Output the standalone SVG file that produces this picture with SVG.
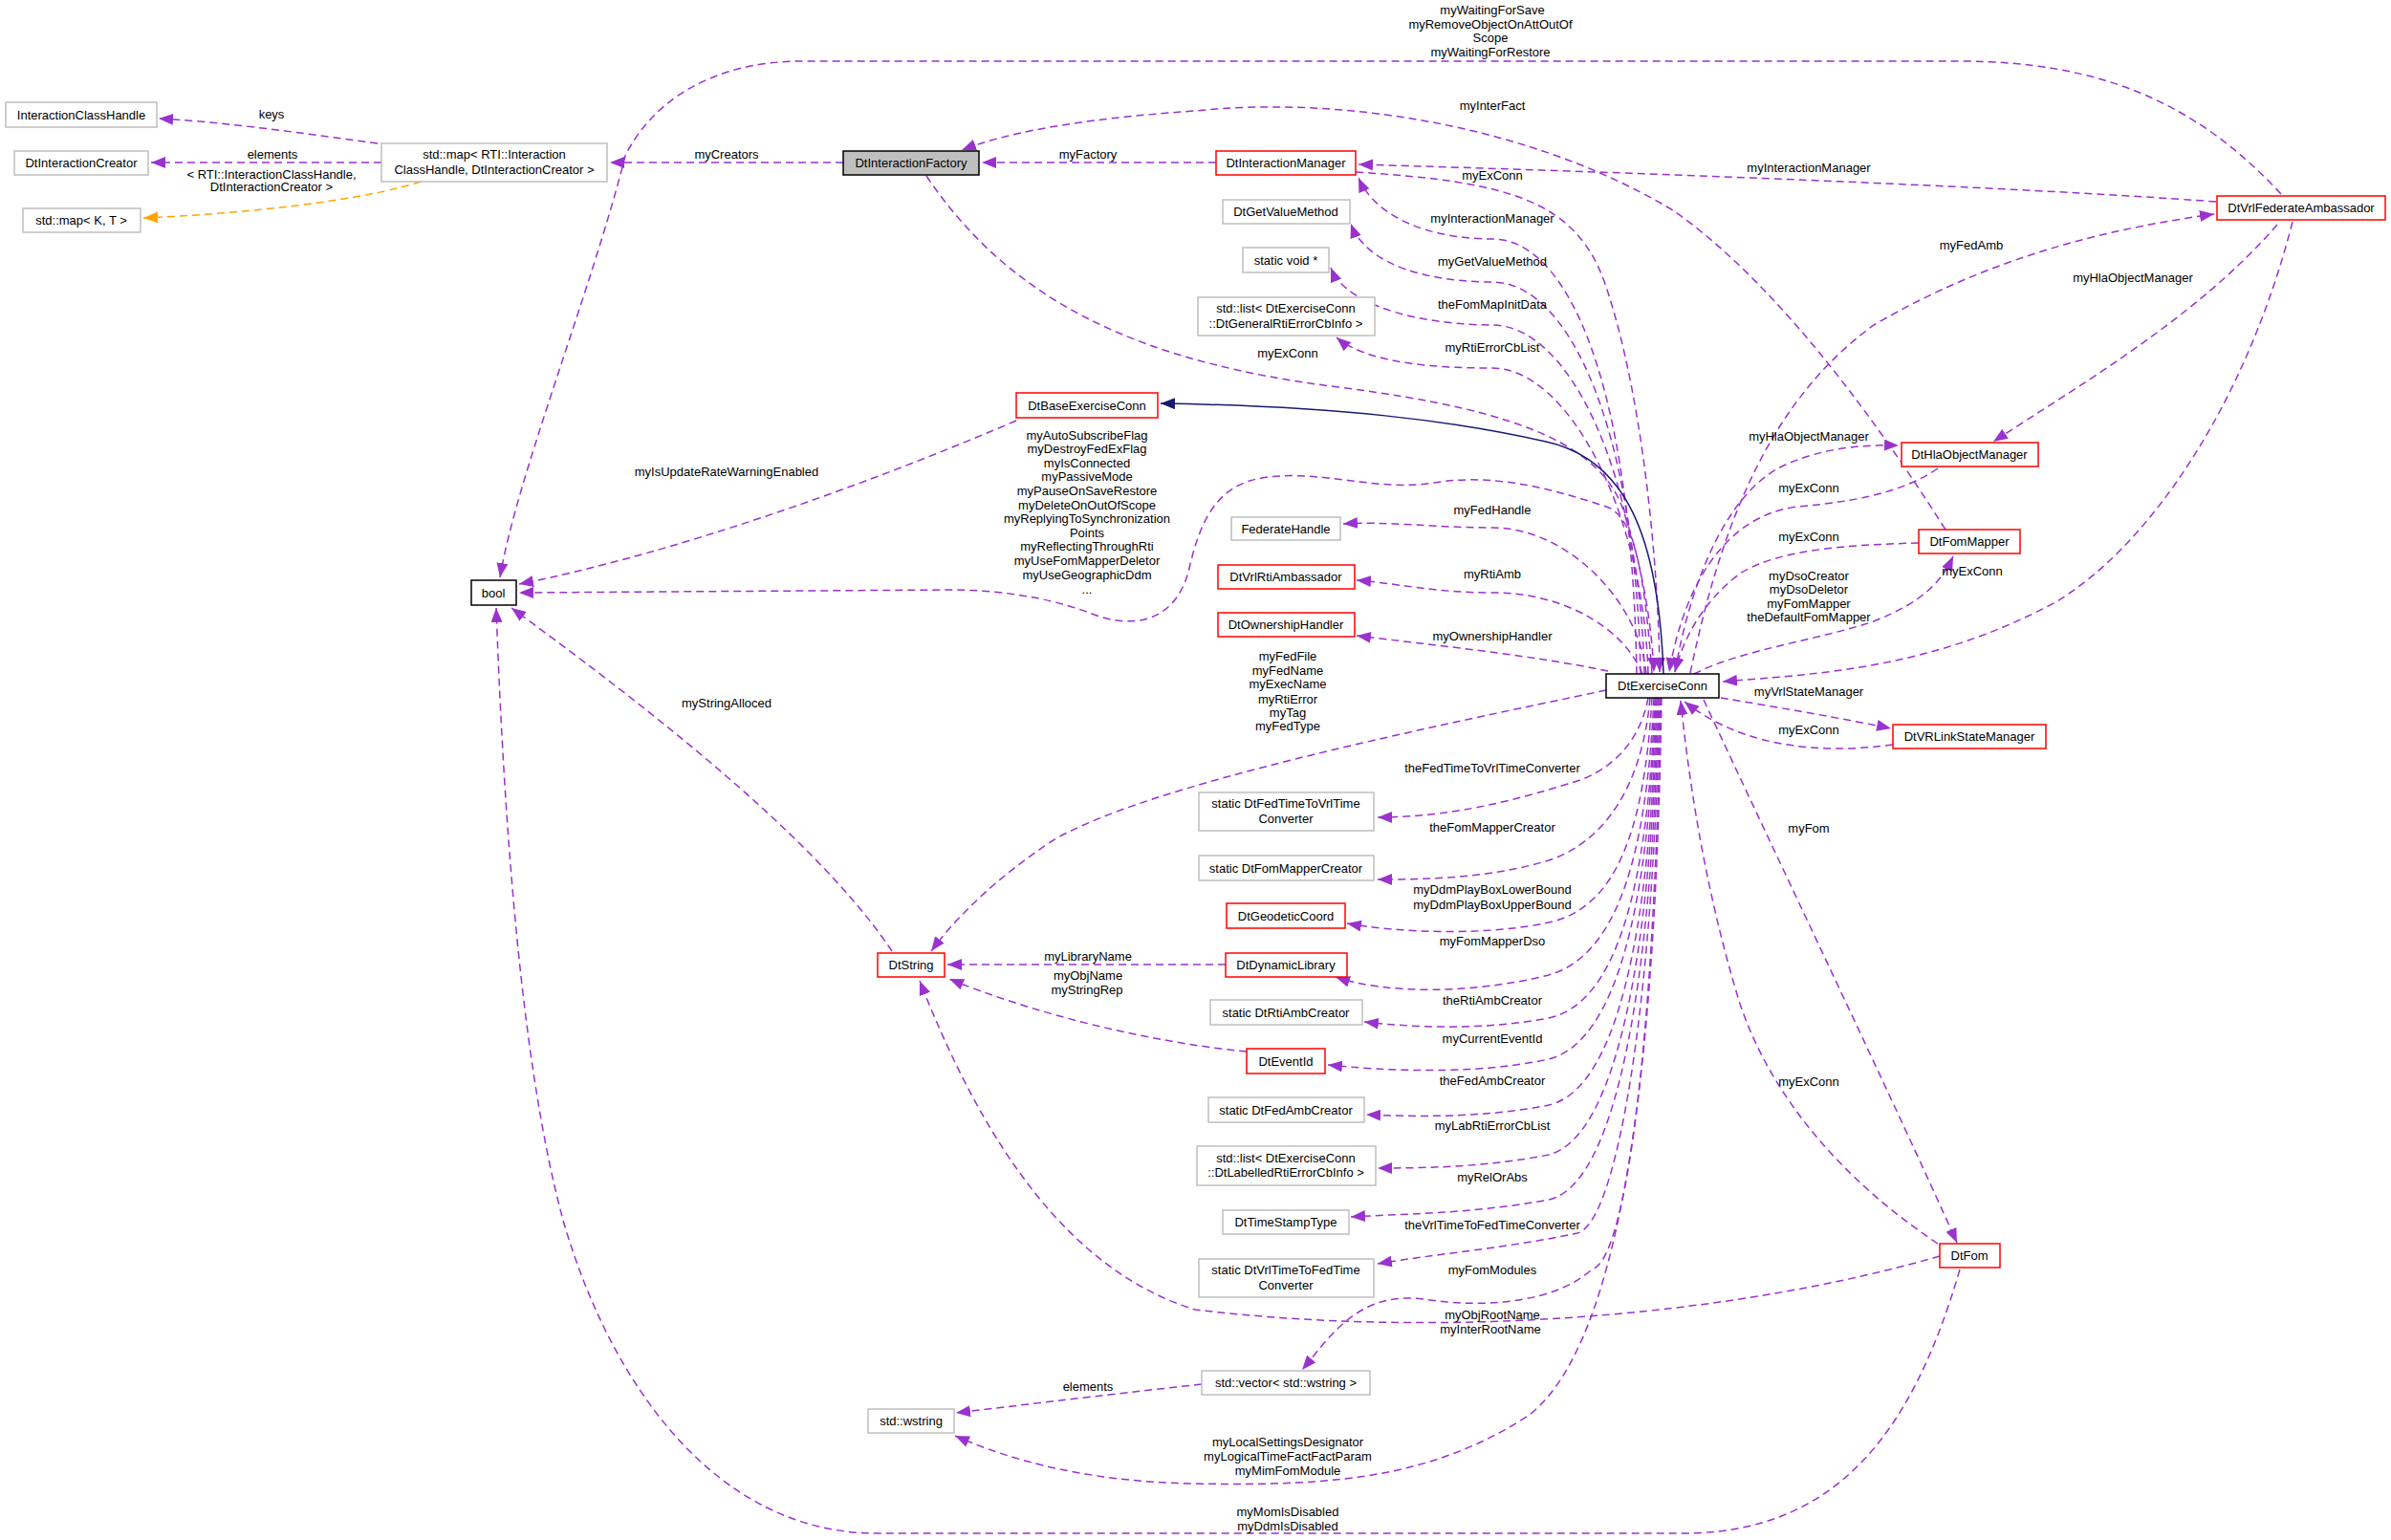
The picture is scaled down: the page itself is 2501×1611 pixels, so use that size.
<svg xmlns="http://www.w3.org/2000/svg" width="2501" height="1611" viewBox="0 0 2501 1611">
<defs>
<style>
text{font-family:"Liberation Sans",Arial,sans-serif;font-size:13px;fill:#000;text-anchor:middle}
.n rect{fill:#fff;stroke:#bfbfbf;stroke-width:1.5}
.r rect{stroke:#ff0000}
.b rect{stroke:#000}
.e path{fill:none;stroke:#9a32cd;stroke-width:1.5;stroke-dasharray:8,5;marker-end:url(#ap)}
.e path.o{stroke:#ffa500;marker-end:url(#ao)}
.e path.s{stroke:#191970;stroke-dasharray:none;marker-end:url(#an)}
</style>
<marker id="ap" markerUnits="userSpaceOnUse" markerWidth="16" markerHeight="12" refX="15" refY="6" orient="auto"><path d="M0,0 L15,6 L0,12 z" fill="#9a32cd"/></marker>
<marker id="ao" markerUnits="userSpaceOnUse" markerWidth="16" markerHeight="12" refX="15" refY="6" orient="auto"><path d="M0,0 L15,6 L0,12 z" fill="#ffa500"/></marker>
<marker id="an" markerUnits="userSpaceOnUse" markerWidth="16" markerHeight="12" refX="15" refY="6" orient="auto"><path d="M0,0 L15,6 L0,12 z" fill="#191970"/></marker>
</defs>
<rect width="2501" height="1611" fill="#fff"/>
<g class="e" id="edges">
<path d="M1712 705 C1707 400,1640 250,1561 250 C1500 250,1440 230,1421 186"/>
<path d="M1716 705 C1711 445,1640 295,1561 295 C1500 295,1430 280,1413 234"/>
<path d="M1720 705 C1715 490,1640 340,1561 340 C1500 340,1410 325,1392 280"/>
<path d="M1724 705 C1719 535,1640 385,1561 385 C1500 385,1430 380,1398 353"/>
<path d="M1722 705 C1715 630,1640 552,1561 552 C1500 552,1450 545,1405 548"/>
<path d="M1718 705 C1700 660,1640 620,1561 620 C1500 620,1460 610,1419 607"/>
<path d="M1682 702 C1600 685,1500 675,1419 665"/>
<path d="M1418 180 C1580 190,1650 210,1680 300 C1720 420,1735 600,1736 703"/>
<path d="M969 184 C1060 320,1200 380,1400 405 C1600 430,1680 470,1700 540 C1720 600,1728 660,1730 703"/>
<path d="M1728 705 C1720 600,1710 540,1680 530 C1620 510,1560 495,1500 505 C1440 515,1380 490,1320 500 C1270 508,1255 550,1245 590 C1235 640,1200 660,1150 645 C1100 625,1050 618,1000 617 L543 620"/>
<path class="s" d="M1740 705 C1735 560,1700 480,1617 462 C1520 440,1400 425,1214 422"/>
<path d="M2035 554 C1950 420,1850 290,1750 220 C1600 130,1400 100,1250 116 C1120 125,1050 140,1006 157"/>
<path d="M2386 203 C2300 110,2200 64,2050 64 L840 64 C740 64,680 110,654 163 C620 300,540 500,523 604"/>
<path d="M1768 704 C1800 550,1850 420,1960 340 C2080 270,2200 240,2316 224"/>
<path d="M2398 232 C2350 420,2250 570,2150 630 C2020 700,1900 705,1802 713"/>
<path d="M2382 235 C2300 330,2180 400,2085 462"/>
<path d="M2318 211 C2100 195,1700 180,1421 172"/>
<path d="M1752 703 C1770 600,1810 510,1870 485 C1910 468,1950 465,1986 466"/>
<path d="M2027 490 C1990 515,1940 525,1880 530 C1800 540,1760 620,1746 703"/>
<path d="M2007 568 C1930 570,1860 575,1820 600 C1780 630,1760 670,1752 703"/>
<path d="M1772 705 C1820 680,1900 670,1960 650 C2010 630,2030 610,2043 582"/>
<path d="M1800 730 C1860 740,1930 752,1978 762"/>
<path d="M1980 779 C1900 790,1820 780,1762 734"/>
<path d="M1782 732 C1860 900,1980 1150,2047 1300"/>
<path d="M2027 1301 C1920 1230,1850 1140,1820 1050 C1780 920,1765 800,1758 733"/>
<path d="M2029 1314 C1800 1380,1500 1400,1250 1370 C1120 1330,1030 1200,962 1026"/>
<path d="M2050 1328 C2000 1500,1920 1604,1760 1604 L917 1604 C750 1604,640 1450,590 1280 C540 1100,525 800,519 636"/>
<path d="M1680 722 C1500 760,1200 820,1100 880 C1040 920,1000 960,974 995"/>
<path d="M933 995 C850 870,650 720,535 636"/>
<path d="M1724 730 C1715 780,1680 810,1640 820 C1560 845,1500 855,1441 855"/>
<path d="M1726 730 C1718 820,1680 880,1620 900 C1560 918,1500 920,1441 920"/>
<path d="M1728 730 C1720 870,1690 950,1620 965 C1550 980,1460 975,1409 966"/>
<path d="M1730 730 C1722 900,1690 1000,1620 1020 C1540 1040,1450 1040,1397 1022"/>
<path d="M1731 730 C1724 930,1690 1050,1620 1065 C1550 1078,1480 1075,1427 1069"/>
<path d="M1732 730 C1725 950,1690 1090,1620 1108 C1540 1125,1450 1120,1389 1114"/>
<path d="M1733 730 C1726 980,1690 1140,1620 1156 C1550 1170,1480 1168,1429 1166"/>
<path d="M1734 730 C1727 1000,1690 1190,1620 1208 C1560 1220,1500 1222,1441 1222"/>
<path d="M1735 730 C1728 1030,1690 1240,1620 1255 C1540 1270,1460 1270,1413 1273"/>
<path d="M1736 730 C1729 1060,1690 1280,1650 1290 C1580 1305,1500 1312,1441 1322"/>
<path d="M1737 730 C1730 1100,1700 1320,1665 1328 C1630 1360,1560 1370,1489 1359 C1420 1350,1390 1400,1362 1433"/>
<path d="M1738 730 C1732 1100,1700 1400,1600 1480 C1500 1545,1400 1555,1250 1552 C1120 1550,1040 1520,999 1502"/>
<path d="M1282 1009 L991 1009"/>
<path d="M1304 1100 C1200 1090,1080 1060,993 1024"/>
<path d="M1257 1448 C1150 1460,1050 1472,1000 1478"/>
<path d="M882 170 L638 170"/>
<path d="M1272 170 L1027 170"/>
<path d="M395 150 C320 140,240 128,166 124"/>
<path d="M399 170 L158 170"/>
<path class="o" d="M440 190 C380 210,250 224,150 228"/>
<path d="M1063 440 C900 510,700 580,543 611"/>
</g>
<g id="labels">
<text x="284" y="124">keys</text>
<text x="285" y="166">elements</text>
<text x="284" y="187">&lt; RTI::InteractionClassHandle,</text>
<text x="284" y="200">DtInteractionCreator &gt;</text>
<text x="760" y="166">myCreators</text>
<text x="1138" y="166">myFactory</text>
<text x="760" y="498">myIsUpdateRateWarningEnabled</text>
<text x="1137" y="460">myAutoSubscribeFlag</text>
<text x="1137" y="474">myDestroyFedExFlag</text>
<text x="1137" y="489">myIsConnected</text>
<text x="1137" y="503">myPassiveMode</text>
<text x="1137" y="518">myPauseOnSaveRestore</text>
<text x="1137" y="533">myDeleteOnOutOfScope</text>
<text x="1137" y="547">myReplyingToSynchronization</text>
<text x="1137" y="562">Points</text>
<text x="1137" y="576">myReflectingThroughRti</text>
<text x="1137" y="591">myUseFomMapperDeletor</text>
<text x="1137" y="606">myUseGeographicDdm</text>
<text x="1137" y="621">...</text>
<text x="760" y="740">myStringAlloced</text>
<text x="1561" y="15">myWaitingForSave</text>
<text x="1559" y="30">myRemoveObjectOnAttOutOf</text>
<text x="1559" y="44">Scope</text>
<text x="1559" y="59">myWaitingForRestore</text>
<text x="1561" y="115">myInterFact</text>
<text x="1892" y="180">myInteractionManager</text>
<text x="1561" y="188">myExConn</text>
<text x="1561" y="233">myInteractionManager</text>
<text x="1561" y="278">myGetValueMethod</text>
<text x="1561" y="323">theFomMapInitData</text>
<text x="1561" y="368">myRtiErrorCbList</text>
<text x="1347" y="374">myExConn</text>
<text x="2062" y="261">myFedAmb</text>
<text x="2231" y="295">myHlaObjectManager</text>
<text x="1892" y="461">myHlaObjectManager</text>
<text x="1892" y="515">myExConn</text>
<text x="1561" y="538">myFedHandle</text>
<text x="1892" y="566">myExConn</text>
<text x="1561" y="605">myRtiAmb</text>
<text x="1892" y="607">myDsoCreator</text>
<text x="1892" y="621">myDsoDeletor</text>
<text x="1892" y="636">myFomMapper</text>
<text x="1892" y="650">theDefaultFomMapper</text>
<text x="2063" y="602">myExConn</text>
<text x="1561" y="670">myOwnershipHandler</text>
<text x="1347" y="691">myFedFile</text>
<text x="1347" y="706">myFedName</text>
<text x="1347" y="720">myExecName</text>
<text x="1347" y="736">myRtiError</text>
<text x="1347" y="750">myTag</text>
<text x="1347" y="764">myFedType</text>
<text x="1892" y="728">myVrlStateManager</text>
<text x="1892" y="768">myExConn</text>
<text x="1561" y="808">theFedTimeToVrlTimeConverter</text>
<text x="1561" y="870">theFomMapperCreator</text>
<text x="1561" y="935">myDdmPlayBoxLowerBound</text>
<text x="1561" y="951">myDdmPlayBoxUpperBound</text>
<text x="1561" y="989">myFomMapperDso</text>
<text x="1561" y="1051">theRtiAmbCreator</text>
<text x="1561" y="1091">myCurrentEventId</text>
<text x="1561" y="1135">theFedAmbCreator</text>
<text x="1561" y="1182">myLabRtiErrorCbList</text>
<text x="1561" y="1236">myRelOrAbs</text>
<text x="1561" y="1286">theVrlTimeToFedTimeConverter</text>
<text x="1561" y="1333">myFomModules</text>
<text x="1561" y="1380">myObjRootName</text>
<text x="1559" y="1395">myInterRootName</text>
<text x="1347" y="1513">myLocalSettingsDesignator</text>
<text x="1347" y="1528">myLogicalTimeFactFactParam</text>
<text x="1347" y="1543">myMimFomModule</text>
<text x="1347" y="1586">myMomIsDisabled</text>
<text x="1347" y="1601">myDdmIsDisabled</text>
<text x="1892" y="871">myFom</text>
<text x="1892" y="1136">myExConn</text>
<text x="1138" y="1005">myLibraryName</text>
<text x="1138" y="1025">myObjName</text>
<text x="1137" y="1040">myStringRep</text>
<text x="1138" y="1455">elements</text>
</g>
<g id="InteractionClassHandle" class="n"><rect x="6" y="107" width="158" height="26"/><text x="85" y="125">InteractionClassHandle</text></g>
<g id="DtInteractionCreator" class="n"><rect x="15" y="158" width="140" height="25"/><text x="85" y="175">DtInteractionCreator</text></g>
<g id="stdmapKT" class="n"><rect x="24" y="218" width="123" height="25"/><text x="85" y="235">std::map&lt; K, T &gt;</text></g>
<g id="stdmapRTI" class="n"><rect x="399" y="150" width="236" height="40"/><text x="517" y="166">std::map&lt; RTI::Interaction</text><text x="517" y="182">ClassHandle, DtInteractionCreator &gt;</text></g>
<g id="DtInteractionFactory" class="n b"><rect x="882" y="158" width="142" height="25" style="fill:#bfbfbf"/><text x="953" y="175">DtInteractionFactory</text></g>
<g id="DtBaseExerciseConn" class="n r"><rect x="1063" y="411" width="148" height="26"/><text x="1137" y="429">DtBaseExerciseConn</text></g>
<g id="bool" class="n b"><rect x="493" y="607" width="47" height="26"/><text x="516" y="625">bool</text></g>
<g id="DtInteractionManager" class="n r"><rect x="1272" y="158" width="146" height="25"/><text x="1345" y="175">DtInteractionManager</text></g>
<g id="DtGetValueMethod" class="n"><rect x="1279" y="209" width="133" height="25"/><text x="1345" y="226">DtGetValueMethod</text></g>
<g id="staticvoid" class="n"><rect x="1300" y="259" width="90" height="26"/><text x="1345" y="277">static void *</text></g>
<g id="listGeneral" class="n"><rect x="1253" y="311" width="185" height="40"/><text x="1345" y="327">std::list&lt; DtExerciseConn</text><text x="1345" y="343">::DtGeneralRtiErrorCbInfo &gt;</text></g>
<g id="FederateHandle" class="n"><rect x="1288" y="541" width="114" height="24"/><text x="1345" y="558">FederateHandle</text></g>
<g id="DtVrlRtiAmbassador" class="n r"><rect x="1274" y="591" width="143" height="25"/><text x="1345" y="608">DtVrlRtiAmbassador</text></g>
<g id="DtOwnershipHandler" class="n r"><rect x="1274" y="641" width="143" height="25"/><text x="1345" y="658">DtOwnershipHandler</text></g>
<g id="DtExerciseConn" class="n b"><rect x="1680" y="705" width="118" height="25"/><text x="1739" y="722">DtExerciseConn</text></g>
<g id="DtVrlFederateAmbassador" class="n r"><rect x="2319" y="205" width="176" height="25"/><text x="2407" y="222">DtVrlFederateAmbassador</text></g>
<g id="DtHlaObjectManager" class="n r"><rect x="1989" y="463" width="143" height="25"/><text x="2060" y="480">DtHlaObjectManager</text></g>
<g id="DtFomMapper" class="n r"><rect x="2007" y="554" width="106" height="25"/><text x="2060" y="571">DtFomMapper</text></g>
<g id="DtVRLinkStateManager" class="n r"><rect x="1980" y="758" width="160" height="25"/><text x="2060" y="775">DtVRLinkStateManager</text></g>
<g id="FedTimeToVrl" class="n"><rect x="1254" y="829" width="183" height="40"/><text x="1345" y="845">static DtFedTimeToVrlTime</text><text x="1345" y="861">Converter</text></g>
<g id="FomMapperCreator" class="n"><rect x="1254" y="895" width="183" height="26"/><text x="1345" y="913">static DtFomMapperCreator</text></g>
<g id="DtGeodeticCoord" class="n r"><rect x="1283" y="945" width="124" height="26"/><text x="1345" y="963">DtGeodeticCoord</text></g>
<g id="DtDynamicLibrary" class="n r"><rect x="1282" y="997" width="127" height="25"/><text x="1345" y="1014">DtDynamicLibrary</text></g>
<g id="RtiAmbCreator" class="n"><rect x="1266" y="1046" width="159" height="26"/><text x="1345" y="1064">static DtRtiAmbCreator</text></g>
<g id="DtEventId" class="n r"><rect x="1304" y="1097" width="82" height="26"/><text x="1345" y="1115">DtEventId</text></g>
<g id="FedAmbCreator" class="n"><rect x="1264" y="1148" width="163" height="26"/><text x="1345" y="1166">static DtFedAmbCreator</text></g>
<g id="listLabelled" class="n"><rect x="1252" y="1199" width="187" height="41"/><text x="1345" y="1216">std::list&lt; DtExerciseConn</text><text x="1345" y="1231">::DtLabelledRtiErrorCbInfo &gt;</text></g>
<g id="DtTimeStampType" class="n"><rect x="1279" y="1266" width="132" height="25"/><text x="1345" y="1283">DtTimeStampType</text></g>
<g id="VrlTimeToFed" class="n"><rect x="1254" y="1317" width="183" height="40"/><text x="1345" y="1333">static DtVrlTimeToFedTime</text><text x="1345" y="1349">Converter</text></g>
<g id="vectorwstring" class="n"><rect x="1257" y="1434" width="176" height="25"/><text x="1345" y="1451">std::vector&lt; std::wstring &gt;</text></g>
<g id="DtFom" class="n r"><rect x="2029" y="1301" width="63" height="25"/><text x="2060" y="1318">DtFom</text></g>
<g id="DtString" class="n r"><rect x="918" y="997" width="70" height="25"/><text x="953" y="1014">DtString</text></g>
<g id="wstring" class="n"><rect x="908" y="1474" width="90" height="25"/><text x="953" y="1491">std::wstring</text></g>
</svg>
